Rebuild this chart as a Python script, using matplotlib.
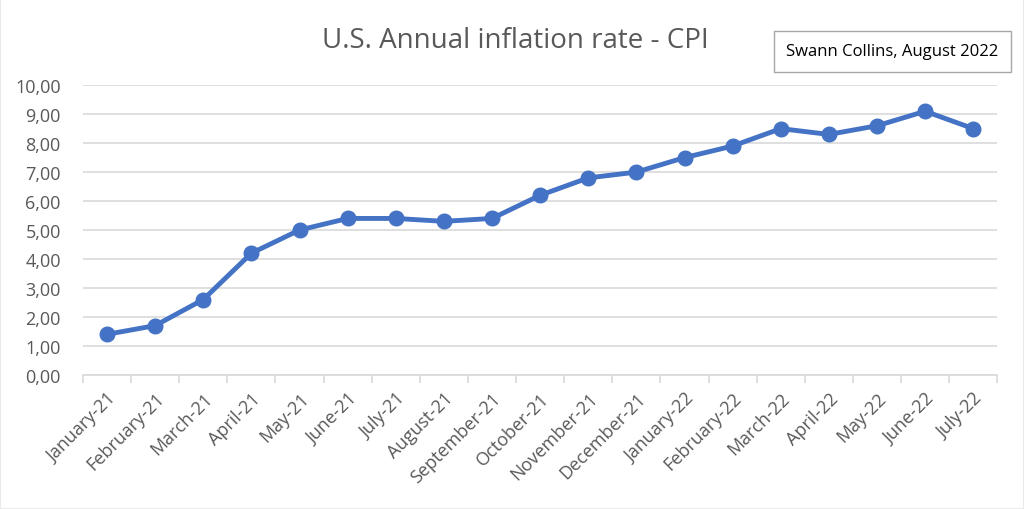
import matplotlib
matplotlib.use("Agg")
import matplotlib.pyplot as plt
from matplotlib.patches import Rectangle
from matplotlib.ticker import FuncFormatter, FixedLocator

months = ["January-21", "February-21", "March-21", "April-21", "May-21", "June-21",
          "July-21", "August-21", "September-21", "October-21", "November-21",
          "December-21", "January-22", "February-22", "March-22", "April-22",
          "May-22", "June-22", "July-22"]
cpi = [1.4, 1.7, 2.6, 4.2, 5.0, 5.4, 5.4, 5.3, 5.4, 6.2, 6.8, 7.0,
       7.5, 7.9, 8.5, 8.3, 8.6, 9.1, 8.5]

plt.rcParams['font.family'] = ['Open Sans', 'DejaVu Sans']
gray = '#595959'
grid = '#D9D9D9'

fig = plt.figure(figsize=(10.24, 5.1), dpi=100)
ax = fig.add_axes([0.081, 0.263, 0.893, 0.568])

x = list(range(len(months)))
ax.plot(x, cpi, color='#4472C4', linewidth=3.5, marker='o', markersize=10.5,
        solid_capstyle='round', zorder=3)

ax.set_xlim(-0.5, len(months) - 0.5)
ax.set_ylim(0, 10)
ax.set_yticks(range(0, 11))
ax.yaxis.set_major_formatter(FuncFormatter(lambda v, p: f"{v:.2f}".replace('.', ',')))
ax.grid(axis='y', color=grid, linewidth=1.2)
ax.set_axisbelow(True)

ax.set_xticks(x)
ax.set_xticklabels(months, rotation=45, ha='right', rotation_mode='anchor')
ax.xaxis.set_minor_locator(FixedLocator([i - 0.5 for i in range(len(months) + 1)]))
ax.tick_params(axis='x', which='major', length=0, pad=10, labelsize=13, labelcolor=gray)
ax.tick_params(axis='x', which='minor', length=6, color=grid, width=1.2, direction='out')
ax.tick_params(axis='y', length=0, pad=16, labelsize=13, labelcolor=gray)

for s in ['top', 'right', 'left']:
    ax.spines[s].set_visible(False)
ax.spines['bottom'].set_color(grid)
ax.spines['bottom'].set_linewidth(1.2)

fig.text(0.503, 0.92, "U.S. Annual inflation rate - CPI", ha='center', va='center',
         fontsize=20, color=gray)

fig.text(0.8715, 0.898, "Swann Collins, August 2022", ha='center', va='center',
         fontsize=12, color='black',
         bbox=dict(boxstyle='square,pad=0.75', facecolor='white', edgecolor='#A6A6A6', linewidth=1))

fig.patches.append(Rectangle((0, 0), 1, 1, transform=fig.transFigure, fill=False,
                             edgecolor='#E6E6E6', linewidth=1.2))

fig.savefig("out.png", dpi=100)
